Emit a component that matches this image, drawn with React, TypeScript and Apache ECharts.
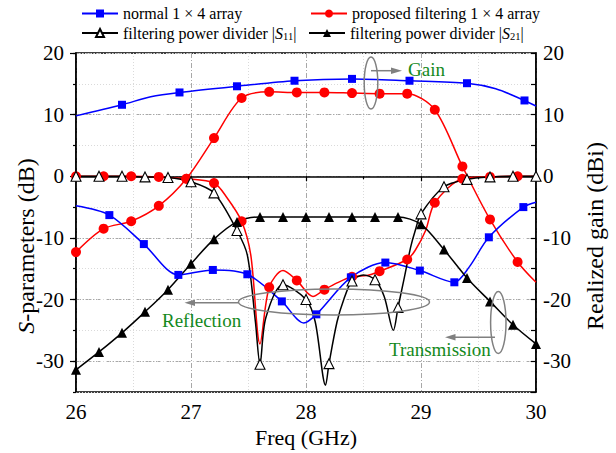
import React, { useEffect, useRef } from 'react';
import * as echarts from 'echarts';

const FONT = 'Liberation Serif';

// axis ticks
const xTickValues = [26, 27, 28, 29, 30];
const yTickValues = [-30, -20, -10, 0, 10, 20];

// series names
const NAME_NORMAL = 'normal 1 × 4 array';
const NAME_PROPOSED = 'proposed filtering 1 × 4 array';
const NAME_S11 = 'filtering power divider |S11|';
const NAME_S21 = 'filtering power divider |S21|';

// normal 1x4 array – realized gain (dBi, right axis)
const normalGainMarkX = [26.4, 26.9, 27.4, 27.9, 28.4, 28.9, 29.4, 29.9];
const normalGainMarkY = [11.6, 13.6, 14.6, 15.5, 15.8, 15.5, 15.1, 12.3];
const normalGainKnotX = [26.0, 26.65, 29.65, 30.0];
const normalGainKnotY = [9.8, 12.9, 14.2, 11.4];

// normal 1x4 array – reflection (dB)
const normalSMarkX = [26.29, 26.59, 26.89, 27.19, 27.49, 27.79, 28.09, 28.39, 28.69, 28.99, 29.29, 29.59, 29.89];
const normalSMarkY = [-6.3, -11.0, -16.0, -15.2, -15.9, -20.3, -22.4, -16.4, -14.0, -15.3, -17.2, -9.9, -5.0];
const normalSKnotX = [26.0, 27.98, 29.42, 30.0];
const normalSKnotY = [-4.8, -23.8, -14.7, -4.2];

// proposed filtering 1x4 array – realized gain (dBi, right axis)
const propGainMarkX = [26.0, 26.24, 26.48, 26.72, 26.96, 27.2, 27.44, 27.68, 27.92, 28.16, 28.4, 28.64, 28.88, 29.12, 29.36, 29.6, 29.84];
const propGainMarkY = [-12.3, -8.5, -7.3, -4.8, -0.4, 6.2, 12.7, 13.7, 13.6, 13.6, 13.5, 13.4, 13.4, 10.8, 1.6, -7.0, -13.9];
const propGainKnotX = [30.0];
const propGainKnotY = [-17.2];

// proposed filtering 1x4 array – reflection (dB)
const propSMarkX = [26.0, 26.24, 26.48, 26.72, 26.96, 27.2, 27.44, 27.68, 27.92, 28.16, 28.4, 28.64, 28.88, 29.12, 29.36, 29.6, 29.84];
const propSMarkY = [0, 0, 0, -0.1, -0.4, -1.1, -7.3, -18.0, -16.9, -18.4, -16.3, -15.4, -13.5, -4.3, -0.4, -0.1, 0];
const propSKnotX = [27.31, 27.52, 27.6, 27.8, 28.06, 28.27, 28.53, 28.95, 29.04, 30.0];
const propSKnotY = [-3.4, -12.8, -27.2, -15.3, -19.5, -17.3, -16.1, -12.0, -8.8, 0];

// filtering power divider |S11|
const s11MarkX = [26.0, 26.2, 26.4, 26.6, 26.8, 27.0, 27.2, 27.4, 27.6, 27.8, 28.0, 28.2, 28.4, 28.6, 28.8, 29.0, 29.2, 29.4, 29.6, 29.8, 30.0];
const s11MarkY = [0, 0, 0, -0.1, -0.2, -0.9, -2.7, -8.8, -30.5, -17.6, -20.0, -30.4, -17.0, -16.8, -21.3, -6.1, -1.7, -0.5, -0.1, 0, 0];
const s11KnotX = [27.49, 27.56, 27.65, 28.08, 28.17, 28.27, 28.33, 28.5, 28.68, 28.76, 28.85, 28.91, 28.95];
const s11KnotY = [-12.8, -23.6, -23.0, -23.6, -33.9, -23.6, -19.9, -16.0, -19.5, -25.0, -16.9, -11.5, -8.8];

// filtering power divider |S21|
const s21MarkX = [26.0, 26.2, 26.4, 26.6, 26.8, 27.0, 27.2, 27.4, 27.6, 27.8, 28.0, 28.2, 28.4, 28.6, 28.8, 29.0, 29.2, 29.4, 29.6, 29.8, 30.0];
const s21MarkY = [-31.4, -28.5, -25.4, -22.0, -18.4, -14.2, -10.2, -7.4, -6.6, -6.6, -6.6, -6.6, -6.6, -6.6, -6.6, -7.8, -11.9, -16.5, -20.3, -24.1, -27.2];

function buildData(markX: number[], markY: number[], knotX: number[] = [], knotY: number[] = []) {
  const pts: any[] = [];
  markX.forEach((x, i) => pts.push({ value: [x, markY[i]] }));
  knotX.forEach((x, i) => pts.push({ value: [x, knotY[i]], symbol: 'none' }));
  pts.sort((a, b) => a.value[0] - b.value[0]);
  return pts;
}

const BLUE = '#0000ff';
const RED = '#ff0000';
const BLACK = '#000000';
const GRAY = '#808080';
const GREEN = '#14891c';

const majorGrid = { color: '#a8a8a8', width: 1, type: [5, 2, 1, 2] as any };
const minorGrid = { color: '#dadada', width: 1, type: [1, 2] as any };

function lineSeries(name: string, yAxisIndex: number, data: any[], color: string, symbol: string, size: number, fill?: string) {
  return {
    name,
    type: 'line',
    yAxisIndex,
    data,
    smooth: 0.3,
    symbol,
    symbolSize: size,
    showAllSymbol: true,
    clip: false,
    lineStyle: { color, width: 1.5 },
    itemStyle: { color: fill || color, borderColor: color, borderWidth: fill ? 1.1 : 0 },
    emphasis: { disabled: true },
  };
}

const legendText = {
  fontFamily: FONT,
  fontSize: 16,
  fontWeight: 'normal',
  color: '#000',
  rich: {
    t: { fontFamily: FONT, fontSize: 16, fontWeight: 'normal', color: '#000', lineHeight: 18 },
    i: { fontFamily: FONT, fontSize: 16, fontWeight: 'normal', fontStyle: 'italic', color: '#000', lineHeight: 18 },
    sub: { fontFamily: FONT, fontSize: 10.5, fontWeight: 'normal', color: '#000', lineHeight: 10, verticalAlign: 'bottom' },
  },
};

function legendFormatter(name: string) {
  if (name === NAME_S11) return '{t|filtering power divider |}{i|S}{sub|11}{t||}';
  if (name === NAME_S21) return '{t|filtering power divider |}{i|S}{sub|21}{t||}';
  return '{t|' + name + '}';
}

function makeLegend(name: string, left: number, top: number) {
  return {
    data: [name],
    left,
    top,
    padding: 0,
    itemWidth: 36,
    itemHeight: 10,
    itemGap: 5,
    selectedMode: false,
    formatter: legendFormatter,
    textStyle: legendText,
  };
}

const tickLabelStyle = { fontFamily: FONT, fontSize: 21, fontWeight: 'normal', color: '#000' };

const option: any = {
  animation: false,
  backgroundColor: '#ffffff',
  textStyle: { fontFamily: FONT, fontWeight: 'normal' },
  grid: {
    left: 76,
    right: 80,
    top: 53,
    bottom: 61,
    containLabel: false,
    outerBoundsMode: 'none',
    show: true,
    borderColor: '#000',
    borderWidth: 1.5,
    backgroundColor: 'transparent',
  },
  legend: [
    makeLegend(NAME_NORMAL, 81, 5.5),
    makeLegend(NAME_PROPOSED, 310, 5.5),
    makeLegend(NAME_S11, 81, 25),
    makeLegend(NAME_S21, 308, 25),
  ],
  xAxis: {
    type: 'value',
    min: 26,
    max: 30,
    interval: 1,
    name: 'Freq (GHz)',
    nameLocation: 'middle',
    nameGap: 33,
    nameTextStyle: { fontFamily: FONT, fontSize: 22, fontWeight: 'normal', color: '#000' },
    axisLine: { show: true, lineStyle: { color: '#000', width: 1.6 } },
    axisTick: { show: true, inside: false, length: 5, lineStyle: { color: '#000', width: 1.2 } },
    minorTick: { show: true, splitNumber: 2, length: 3, lineStyle: { color: '#000', width: 1.2 } },
    axisLabel: {
      ...tickLabelStyle,
      customValues: xTickValues,
      margin: 9,
      formatter: (v: number) => String(v),
    },
    splitLine: { show: true, lineStyle: majorGrid },
    minorSplitLine: { show: true, lineStyle: minorGrid },
  },
  yAxis: [
    {
      type: 'value',
      position: 'left',
      min: -35,
      max: 20,
      interval: 5,
      axisLine: { show: true, onZero: false, lineStyle: { color: '#000', width: 1.6 } },
      axisTick: { show: true, inside: false, length: 6, customValues: yTickValues, lineStyle: { color: '#000', width: 1.2 } },
      axisLabel: {
        ...tickLabelStyle,
        customValues: yTickValues,
        margin: 12,
        formatter: (v: number) => (v % 10 === 0 ? String(v) : ''),
      },
      splitLine: { show: true, lineStyle: majorGrid },
    },
    {
      type: 'value',
      position: 'right',
      min: -35,
      max: 20,
      interval: 5,
      axisLine: { show: true, onZero: false, lineStyle: { color: '#000', width: 1.6 } },
      axisTick: { show: true, inside: true, length: 5, lineStyle: { color: '#000', width: 1.2 } },
      axisLabel: {
        ...tickLabelStyle,
        customValues: yTickValues,
        margin: 7,
        formatter: (v: number) => (v % 10 === 0 ? String(v) : ''),
      },
      splitLine: { show: false },
    },
    {
      type: 'value',
      position: 'left',
      min: -35,
      max: 20,
      interval: 5,
      z: 0,
      axisLine: { show: false },
      axisTick: { show: true, inside: false, length: 3, lineStyle: { color: '#000', width: 1.2 } },
      axisLabel: { show: false },
      splitLine: { show: true, lineStyle: minorGrid },
    },
  ],
  series: [
    lineSeries(NAME_PROPOSED, 1, buildData(propGainMarkX, propGainMarkY, propGainKnotX, propGainKnotY), RED, 'circle', 10),
    lineSeries(NAME_PROPOSED, 0, buildData(propSMarkX, propSMarkY, propSKnotX, propSKnotY), RED, 'circle', 10),
    lineSeries(NAME_NORMAL, 1, buildData(normalGainMarkX, normalGainMarkY, normalGainKnotX, normalGainKnotY), BLUE, 'rect', 8),
    lineSeries(NAME_NORMAL, 0, buildData(normalSMarkX, normalSMarkY, normalSKnotX, normalSKnotY), BLUE, 'rect', 8),
    lineSeries(NAME_S21, 0, buildData(s21MarkX, s21MarkY), BLACK, 'triangle', 10),
    lineSeries(NAME_S11, 0, buildData(s11MarkX, s11MarkY, s11KnotX, s11KnotY), BLACK, 'triangle', 10, '#ffffff'),
  ],
  graphic: [
    {
      type: 'text',
      x: 26,
      y: 246,
      rotation: Math.PI / 2,
      z: 100,
      style: {
        text: '{i|S}{n|-parameters (dB)}',
        align: 'center',
        verticalAlign: 'middle',
        fill: '#000',
        fontFamily: FONT,
        fontSize: 24,
        rich: {
          i: { fontFamily: FONT, fontSize: 24, fontStyle: 'italic', fill: '#000', lineHeight: 26 },
          n: { fontFamily: FONT, fontSize: 24, fill: '#000', lineHeight: 26 },
        },
      },
    },
    {
      type: 'text',
      x: 595,
      y: 236,
      rotation: Math.PI / 2,
      z: 100,
      style: {
        text: 'Realized gain (dBi)',
        align: 'center',
        verticalAlign: 'middle',
        fill: '#000',
        fontFamily: FONT,
        fontSize: 24,
      },
    },
    // Gain annotation
    { type: 'ellipse', z: 100, shape: { cx: 371, cy: 83, rx: 6.8, ry: 26 }, style: { fill: 'none', stroke: GRAY, lineWidth: 1.5 } },
    { type: 'line', z: 100, shape: { x1: 371, y1: 70.7, x2: 394, y2: 70.7 }, style: { stroke: GRAY, lineWidth: 1.5 } },
    { type: 'polygon', z: 100, shape: { points: [[391, 67.5], [402, 70.7], [391, 74]] }, style: { fill: GRAY } },
    { type: 'text', z: 100, x: 408, y: 69, style: { text: 'Gain', fill: GREEN, fontFamily: FONT, fontSize: 19, verticalAlign: 'middle', align: 'left' } },
    // Reflection annotation
    { type: 'ellipse', z: 100, shape: { cx: 334, cy: 302, rx: 95.5, ry: 13 }, style: { fill: 'none', stroke: GRAY, lineWidth: 1.5 } },
    { type: 'line', z: 100, shape: { x1: 238.5, y1: 302.7, x2: 192, y2: 302.7 }, style: { stroke: GRAY, lineWidth: 1.5 } },
    { type: 'polygon', z: 100, shape: { points: [[195, 299.5], [184.5, 302.7], [195, 306]] }, style: { fill: GRAY } },
    { type: 'text', z: 100, x: 162, y: 320, style: { text: 'Reflection', fill: GREEN, fontFamily: FONT, fontSize: 19, verticalAlign: 'middle', align: 'left' } },
    // Transmission annotation
    { type: 'ellipse', z: 100, shape: { cx: 498.3, cy: 322.5, rx: 7.7, ry: 31 }, style: { fill: 'none', stroke: GRAY, lineWidth: 1.5 } },
    { type: 'line', z: 100, shape: { x1: 495, y1: 337.3, x2: 453, y2: 337.3 }, style: { stroke: GRAY, lineWidth: 1.5 } },
    { type: 'polygon', z: 100, shape: { points: [[455.5, 334], [445, 337.3], [455.5, 340.6]] }, style: { fill: GRAY } },
    { type: 'text', z: 100, x: 389, y: 349.5, style: { text: 'Transmission', fill: GREEN, fontFamily: FONT, fontSize: 19, verticalAlign: 'middle', align: 'left' } },
  ],
};

export default function App() {
  const ref = useRef<HTMLDivElement>(null);
  useEffect(() => {
    if (!ref.current) return;
    const chart = echarts.init(ref.current, null, { renderer: 'svg' });
    chart.setOption(option);
    return () => chart.dispose();
  }, []);
  return (
    <div
      ref={ref}
      style={{ position: 'fixed', left: 0, top: 0, width: 616, height: 453, background: '#fff' }}
    />
  );
}
